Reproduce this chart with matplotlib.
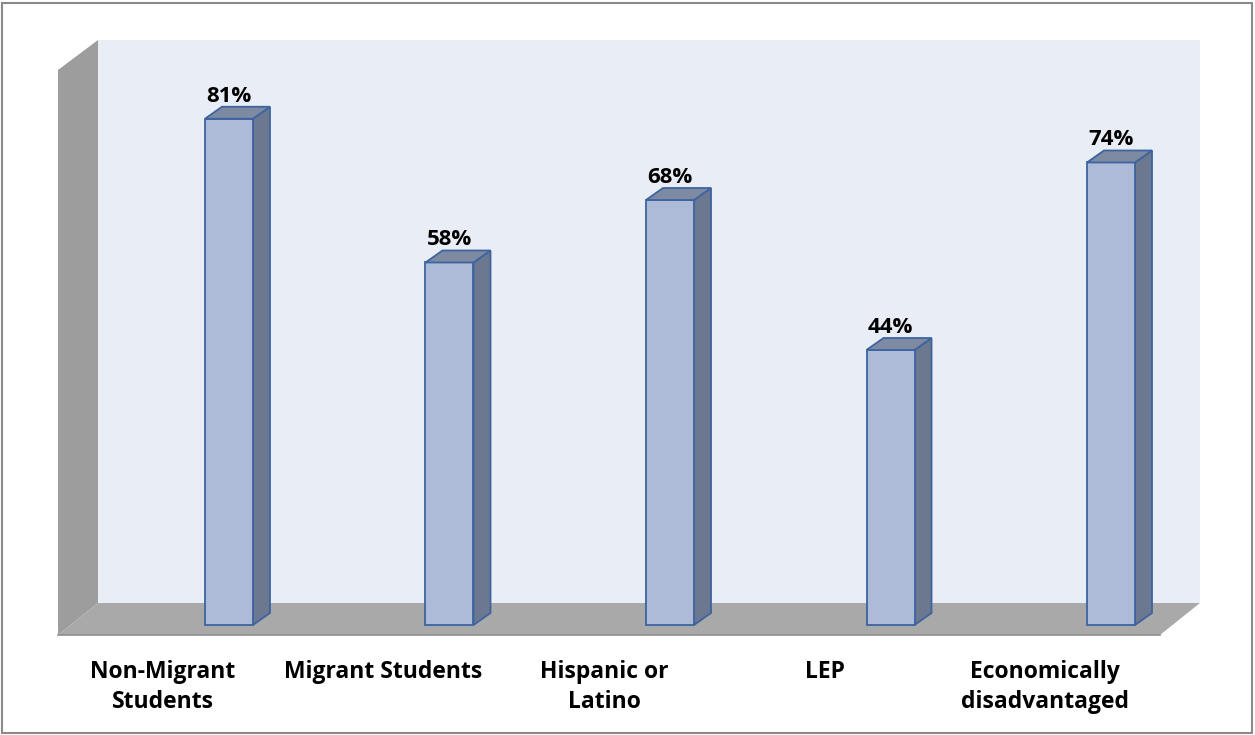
import matplotlib.pyplot as plt
from matplotlib.patches import Polygon, Rectangle

# chart data
categories = ['Non-Migrant\nStudents', 'Migrant Students', 'Hispanic or\nLatino', 'LEP', 'Economically\ndisadvantaged']
values = [81, 58, 68, 44, 74]
value_labels = ['81%', '58%', '68%', '44%', '74%']

W, H = 1255, 735
fig = plt.figure(figsize=(W / 100, H / 100), dpi=100)
ax = fig.add_axes([0, 0, 1, 1])
ax.set_xlim(-1.0385, 4.653)
ax.set_ylim(-17.6, 100)
ax.axis('off')

#size of one pixel in data units
px_x = (4.653 + 1.0385) / W
px_y = (100 + 17.6) / H

def px(x, y):
    #converts picture pixel position to data coords
    return (-1.0385 + x * px_x, 100 - y * px_y)

#back wall, side wall and floor
ax.add_patch(Polygon([px(98, 40), px(1200, 40), px(1200, 603), px(98, 603)],
                     closed=True, facecolor='#e9edf5', edgecolor='none', zorder=1))
ax.add_patch(Polygon([px(58, 70), px(98, 40), px(98, 603), px(58, 635)],
                     closed=True, facecolor='#9d9d9d', edgecolor='none', zorder=1))
ax.add_patch(Polygon([px(58, 635), px(98, 603), px(1200, 603), px(1160, 635)],
                     closed=True, facecolor='#a9a9a9', edgecolor='none', zorder=1))
ax.plot([px(58, 635)[0], px(1160, 635)[0]], [px(58, 635)[1]] * 2, color='#8f8f8f', lw=1.2, zorder=1)

#bars with 3d side and top
x = list(range(len(values)))
w = 48 * px_x
dx = 17 * px_x
dy = 12 * px_y
edge = '#3d64a0'
ax.bar(x, values, width=w, color='#adbbd9', edgecolor=edge, linewidth=1.3, zorder=3)
for xi, v, lab in zip(x, values, value_labels):
    r = xi + w / 2
    l = xi - w / 2
    ax.add_patch(Polygon([(r, 0), (r + dx, dy), (r + dx, v + dy), (r, v)], closed=True,
                         facecolor='#6b788f', edgecolor=edge, linewidth=1.3, zorder=2))
    ax.add_patch(Polygon([(l, v), (l + dx, v + dy), (r + dx, v + dy), (r, v)], closed=True,
                         facecolor='#7d8aa2', edgecolor=edge, linewidth=1.3, zorder=4))
    ax.text(xi, v + dy + 5 * px_y, lab, ha='center', va='baseline', fontsize=16,
            fontweight='bold', family='Open Sans', color='black', zorder=5)

#category labels
for xi, cat in zip(x, categories):
    ax.text(xi - 66 * px_x, px(0, 678)[1], cat.split('\n')[0], ha='center', va='baseline',
            fontsize=16.5, fontweight='bold', family='Open Sans', color='black')
    if '\n' in cat:
        ax.text(xi - 66 * px_x, px(0, 708)[1], cat.split('\n')[1], ha='center', va='baseline',
                fontsize=16.5, fontweight='bold', family='Open Sans', color='black')

#outer border
fig.patches.append(Rectangle((2 / W, 2 / H), 1 - 5 / W, 1 - 5 / H, transform=fig.transFigure,
                             fill=False, edgecolor='#8a8a8a', linewidth=1.5))

fig.savefig('out.png', dpi=100, facecolor='white')
